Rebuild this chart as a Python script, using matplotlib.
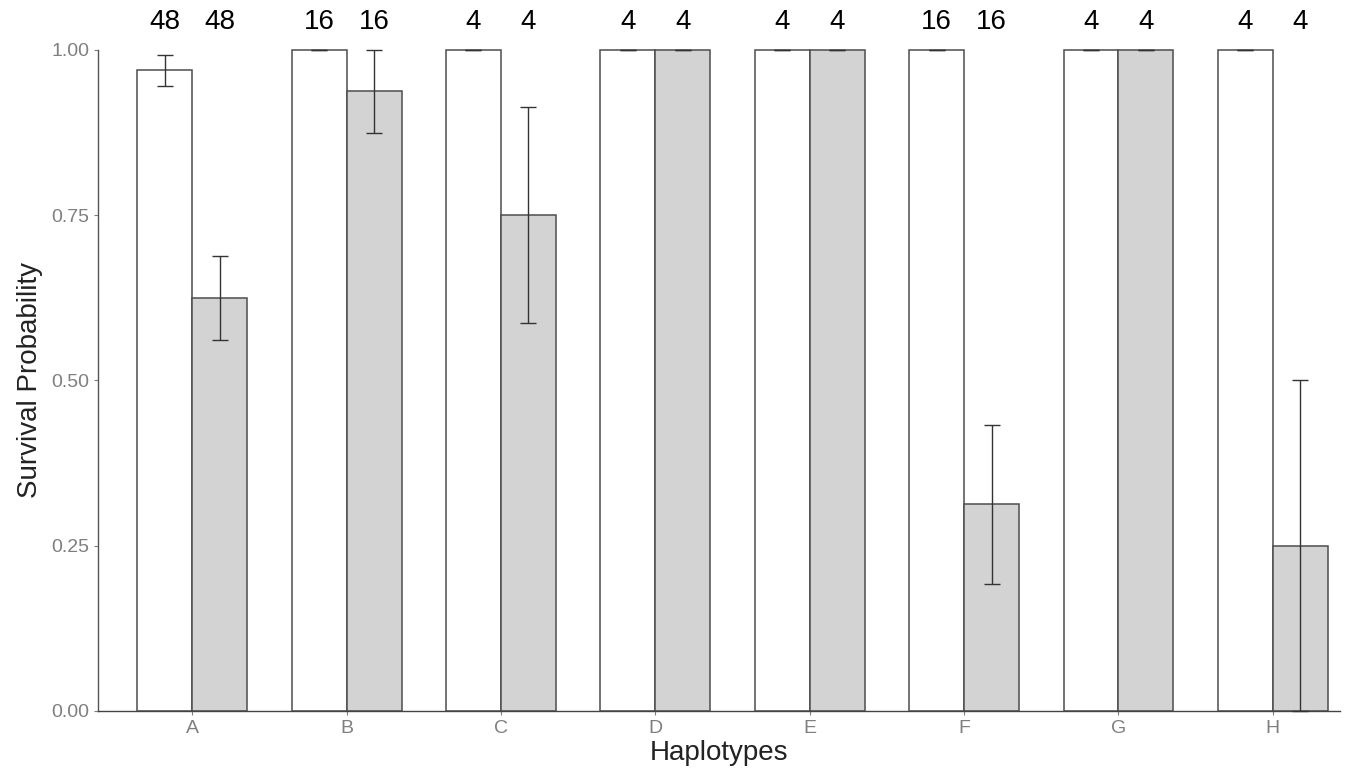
import numpy as np
import matplotlib
matplotlib.use("Agg")
import matplotlib.pyplot as plt

plt.rcParams["font.family"] = ["Liberation Sans", "DejaVu Sans"]

haplotypes = ["A", "B", "C", "D", "E", "F", "G", "H"]
# white bars (first group) and grey bars (second group)
surv_white = [0.969, 1.0, 1.0, 1.0, 1.0, 1.0, 1.0, 1.0]
err_white = [0.024, 0.0, 0.0, 0.0, 0.0, 0.0, 0.0, 0.0]
surv_grey = [0.625, 0.9375, 0.75, 1.0, 1.0, 0.3125, 1.0, 0.25]
err_grey = [0.063, 0.0625, 0.163, 0.0, 0.0, 0.12, 0.0, 0.25]
n_white = [48, 16, 4, 4, 4, 16, 4, 4]
n_grey = [48, 16, 4, 4, 4, 16, 4, 4]

fig = plt.figure(figsize=(13.47, 7.75), dpi=100)
ax = fig.add_axes([0.0728, 0.0826, 0.9220, 0.8529])

x = np.arange(1, len(haplotypes) + 1)
w = 0.356
edge = "#4d4d4d"

ax.bar(x - w / 2, surv_white, width=w, color="white", edgecolor=edge,
       linewidth=1.1, clip_on=False, zorder=2)
ax.bar(x + w / 2, surv_grey, width=w, color="#d3d3d3", edgecolor=edge,
       linewidth=1.1, clip_on=False, zorder=2)

eb1 = ax.errorbar(x - w / 2, surv_white, yerr=err_white, fmt="none",
                  ecolor="#333333", elinewidth=1.0, capsize=5.75, capthick=1.0, zorder=3)
eb2 = ax.errorbar(x + w / 2, surv_grey, yerr=err_grey, fmt="none",
                  ecolor="#333333", elinewidth=1.0, capsize=5.75, capthick=1.0, zorder=3)
for eb in (eb1, eb2):
    for art in eb.lines[1] + eb.lines[2]:
        art.set_clip_on(False)

# sample sizes above bars
for xi, a, b in zip(x, n_white, n_grey):
    ax.text(xi - w / 2, 1.042, str(a), ha="center", va="center",
            fontsize=20, color="black", clip_on=False)
    ax.text(xi + w / 2, 1.042, str(b), ha="center", va="center",
            fontsize=20, color="black", clip_on=False)

ax.set_xlim(0.39, 8.435)
ax.set_ylim(0, 1.0)
ax.set_xticks(x)
ax.set_xticklabels(haplotypes)
ax.set_yticks([0, 0.25, 0.5, 0.75, 1.0])
ax.set_yticklabels(["0.00", "0.25", "0.50", "0.75", "1.00"])
ax.tick_params(axis="both", labelsize=14, labelcolor="#7f7f7f",
               color="#7f7f7f", length=3, width=0.8)

for s in ("top", "right"):
    ax.spines[s].set_visible(False)
ax.spines["left"].set_color("#555555")
ax.spines["bottom"].set_color("#444444")
ax.spines["left"].set_linewidth(1.0)
ax.spines["bottom"].set_linewidth(1.0)

ax.set_xlabel("Haplotypes", fontsize=20, color="#222222", labelpad=2)
ax.set_ylabel("Survival Probability", fontsize=20, color="#222222", labelpad=6)

fig.savefig("out.png", dpi=100)
plt.close(fig)
